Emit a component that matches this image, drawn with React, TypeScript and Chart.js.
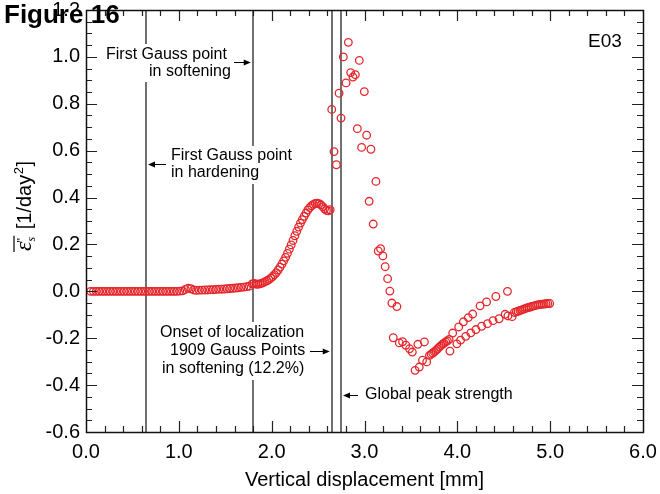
import React, { useEffect, useRef } from "react";
import { Chart, registerables } from "chart.js";

Chart.register(...registerables);

// ---- data ----
const hardeningDisp = [
  0.05, 0.08, 0.11, 0.14, 0.17, 0.2, 0.23, 0.26, 0.29, 0.32, 0.35, 0.38, 0.41, 0.44, 0.47, 0.5,
  0.53, 0.56, 0.59, 0.62, 0.65, 0.68, 0.71, 0.74, 0.77, 0.8, 0.83, 0.86, 0.89, 0.92, 0.95, 0.98,
  1.01, 1.04, 1.07, 1.1, 1.13, 1.16, 1.19, 1.22, 1.25, 1.28, 1.31, 1.34, 1.37, 1.4, 1.43, 1.46,
  1.49, 1.52, 1.55, 1.58, 1.61, 1.64, 1.67, 1.7, 1.73, 1.76,
  1.79, 1.81, 1.83, 1.85, 1.87, 1.89, 1.91, 1.93, 1.95, 1.97, 1.99, 2.01, 2.03, 2.05, 2.07, 2.09,
  2.11, 2.13, 2.15, 2.17, 2.19, 2.21, 2.23, 2.25, 2.27, 2.29, 2.31, 2.33, 2.35, 2.37, 2.39, 2.41,
  2.43, 2.45, 2.47, 2.49, 2.51, 2.53, 2.55, 2.57, 2.59, 2.61, 2.63,
];
const hardeningRate = [
  0, 0, 0, 0, 0, 0, 0, 0, 0, 0, 0, 0, 0, 0, 0, 0,
  0, 0, 0, 0, 0, 0, 0, 0, 0, 0, 0, 0, 0, 0, 0, 0,
  0.001, 0.002, 0.008, 0.013, 0.011, 0.006, 0.004, 0.005, 0.005, 0.006, 0.006, 0.007, 0.007, 0.008, 0.009, 0.009,
  0.01, 0.011, 0.012, 0.013, 0.014, 0.015, 0.017, 0.018, 0.02, 0.022,
  0.032, 0.034, 0.031, 0.03, 0.032, 0.034, 0.037, 0.041, 0.045, 0.05, 0.056, 0.063, 0.071, 0.08, 0.091, 0.103,
  0.116, 0.13, 0.145, 0.162, 0.18, 0.198, 0.217, 0.237, 0.256, 0.274, 0.291, 0.306, 0.32, 0.334, 0.347, 0.357,
  0.365, 0.371, 0.375, 0.376, 0.374, 0.369, 0.361, 0.352, 0.345, 0.343, 0.348,
];
const softeningDisp = [
  2.647, 2.672, 2.697, 2.726, 2.747, 2.772, 2.801, 2.826, 2.851, 2.876, 2.901, 2.923, 2.944, 2.969,
  2.998, 3.023, 3.05, 3.069, 3.094, 3.123, 3.148, 3.173, 3.198, 3.223, 3.249, 3.273, 3.295, 3.349,
  3.31, 3.375, 3.41, 3.445, 3.485, 3.515, 3.575, 3.645,
  3.545, 3.59, 3.625, 3.67, 3.7, 3.718, 3.735, 3.752, 3.77, 3.787, 3.805, 3.822, 3.84, 3.857, 3.875,
  3.893, 3.912, 3.95, 4.015, 4.065, 4.118, 4.165, 4.245, 4.315, 4.415, 4.54,
  3.92, 3.995, 4.035, 4.09, 4.145, 4.2, 4.262, 4.325, 4.385, 4.45, 4.515, 4.545, 4.59,
  4.615, 4.635, 4.655, 4.675, 4.695, 4.715, 4.735, 4.755, 4.775, 4.795, 4.815, 4.835, 4.855, 4.875,
  4.895, 4.915, 4.935, 4.955, 4.975, 4.995,
];
const softeningRate = [
  0.776, 0.596, 0.54, 0.845, 0.739, 1.0, 0.889, 1.062, 0.933, 0.914, 0.924, 0.694, 0.985, 0.614,
  0.852, 0.666, 0.384, 0.606, 0.287, 0.469, 0.172, 0.182, 0.151, 0.105, 0.054, 0.001, -0.05, -0.065,
  -0.198, -0.22, -0.215, -0.23, -0.245, -0.259, -0.226, -0.216,
  -0.337, -0.323, -0.294, -0.301, -0.273, -0.268, -0.263, -0.258, -0.252, -0.245, -0.238, -0.232, -0.226, -0.221, -0.216,
  -0.211, -0.205, -0.178, -0.152, -0.13, -0.112, -0.097, -0.062, -0.045, -0.022, 0.0,
  -0.255, -0.224, -0.208, -0.192, -0.177, -0.163, -0.149, -0.138, -0.125, -0.117, -0.098, -0.105, -0.108,
  -0.09, -0.088, -0.085, -0.082, -0.079, -0.076, -0.073, -0.07, -0.068, -0.066, -0.063, -0.061, -0.059, -0.057,
  -0.056, -0.055, -0.054, -0.053, -0.052, -0.052,
];
// vertical reference lines: first GP hardening, first GP softening, onset of localization, global peak
const markerLines = [0.646, 1.796, 2.647, 2.747];

const X_MIN = 0, X_MAX = 6, X_STEP = 1, X_MINOR = 0.2;
const Y_MIN = -0.6, Y_MAX = 1.2, Y_STEP = 0.2, Y_MINOR = 0.05;

const SANS = '"Liberation Sans", Arial, sans-serif';
const RED = "#e5262b";

function fmt(v: number) {
  const r = Math.round(v * 10) / 10;
  return (r === 0 ? 0 : r).toFixed(1);
}

function arrow(ctx: CanvasRenderingContext2D, x1: number, x2: number, y: number) {
  const dir = x2 > x1 ? 1 : -1;
  ctx.save();
  ctx.strokeStyle = "#000";
  ctx.fillStyle = "#000";
  ctx.lineWidth = 1;
  ctx.beginPath();
  ctx.moveTo(x1, y + 0.5);
  ctx.lineTo(x2 - dir * 6, y + 0.5);
  ctx.stroke();
  ctx.beginPath();
  ctx.moveTo(x2, y + 0.5);
  ctx.lineTo(x2 - dir * 7, y - 3 + 0.5);
  ctx.lineTo(x2 - dir * 7, y + 3 + 0.5);
  ctx.closePath();
  ctx.fill();
  ctx.restore();
}

function textLines(ctx: CanvasRenderingContext2D, lines: [string, number, number][]) {
  ctx.save();
  ctx.font = `16px ${SANS}`;
  ctx.fillStyle = "#000";
  ctx.textBaseline = "middle";
  ctx.textAlign = "left";
  for (const [t, x, y] of lines) ctx.fillText(t, x, y);
  ctx.restore();
}

const decorPlugin = {
  id: "decor",
  beforeDatasetsDraw(chart: any) {
    const ctx: CanvasRenderingContext2D = chart.ctx;
    const xs = chart.scales.x;
    const { top, bottom } = chart.chartArea;
    ctx.save();
    ctx.strokeStyle = "#707070";
    ctx.lineWidth = 2;
    for (const v of markerLines) {
      const px = Math.round(xs.getPixelForValue(v));
      ctx.beginPath();
      ctx.moveTo(px, top);
      ctx.lineTo(px, bottom);
      ctx.stroke();
    }
    // white label boxes
    ctx.fillStyle = "#fff";
    ctx.fillRect(102, 44, 130, 38);
    ctx.fillRect(166, 146, 128, 38);
    ctx.fillRect(156, 322, 152, 58);
    ctx.restore();

    const l0 = xs.getPixelForValue(markerLines[0]);
    const l1 = xs.getPixelForValue(markerLines[1]);
    const l2 = xs.getPixelForValue(markerLines[2]);
    const l3 = xs.getPixelForValue(markerLines[3]);

    textLines(ctx, [
      ["First Gauss point", 106, 55],
      ["in softening", 149, 72],
      ["First Gauss point", 171, 156],
      ["in hardening", 171, 173],
      ["Onset of localization", 160, 333],
      ["1909 Gauss Points", 170, 351],
      ["in softening (12.2%)", 162, 369],
      ["Global peak strength", 365, 395],
    ]);
    arrow(ctx, 234, l1 - 2, 62);
    arrow(ctx, 166, l0 + 2, 164);
    arrow(ctx, 310, l2 - 2, 351);
    arrow(ctx, 358, l3 + 2, 395);
  },
  afterDraw(chart: any) {
    const ctx: CanvasRenderingContext2D = chart.ctx;
    const xs = chart.scales.x;
    const ys = chart.scales.y;
    const { left, right, top, bottom } = chart.chartArea;
    ctx.save();
    // ticks (inward)
    ctx.strokeStyle = "#222";
    ctx.lineWidth = 1.2;
    ctx.beginPath();
    const nx = Math.round((X_MAX - X_MIN) / X_MINOR);
    for (let i = 1; i < nx; i++) {
      const v = X_MIN + i * X_MINOR;
      const major = Math.abs(v / X_STEP - Math.round(v / X_STEP)) < 1e-6;
      const len = major ? 11 : 6;
      const px = Math.round(xs.getPixelForValue(v)) + 0.5;
      ctx.moveTo(px, bottom);
      ctx.lineTo(px, bottom - len);
      ctx.moveTo(px, top);
      ctx.lineTo(px, top + len);
    }
    const ny = Math.round((Y_MAX - Y_MIN) / Y_MINOR);
    for (let i = 1; i < ny; i++) {
      const v = Y_MIN + i * Y_MINOR;
      const major = Math.abs(v / Y_STEP - Math.round(v / Y_STEP)) < 1e-6;
      const len = major ? 11 : 6;
      const py = Math.round(ys.getPixelForValue(v)) + 0.5;
      ctx.moveTo(left, py);
      ctx.lineTo(left + len, py);
      ctx.moveTo(right, py);
      ctx.lineTo(right - len, py);
    }
    ctx.stroke();
    // frame
    ctx.strokeStyle = "#111";
    ctx.lineWidth = 1.5;
    ctx.strokeRect(Math.round(left) + 0.5, Math.round(top) + 0.5, Math.round(right - left), Math.round(bottom - top));

    // x title
    ctx.fillStyle = "#000";
    ctx.font = `20px ${SANS}`;
    ctx.textAlign = "center";
    ctx.textBaseline = "middle";
    ctx.fillText("Vertical displacement [mm]", (left + right) / 2, 480);

    // y title (rotated)
    ctx.save();
    ctx.translate(31, 206);
    ctx.rotate(-Math.PI / 2);
    ctx.textAlign = "left";
    ctx.textBaseline = "alphabetic";
    const epsFont = `italic 24px "Liberation Serif", serif`;
    const subFont = `italic 12px "Liberation Serif", serif`;
    const primeFont = `12px ${SANS}`;
    const mainFont = `20px ${SANS}`;
    const supFont = `13px ${SANS}`;
    ctx.font = epsFont;
    const wEps = ctx.measureText("\u03b5").width;
    ctx.font = subFont;
    const wSub = ctx.measureText("s").width;
    ctx.font = mainFont;
    const wA = ctx.measureText(" [1/day").width;
    const wB = ctx.measureText("]").width;
    ctx.font = supFont;
    const wSup = ctx.measureText("2").width;
    const total = wEps + wSub + 2 + wA + wSup + 1 + wB;
    let x = -total / 2;
    ctx.font = epsFont;
    ctx.fillText("\u03b5", x, 0);
    ctx.lineWidth = 1.2;
    ctx.strokeStyle = "#000";
    ctx.beginPath();
    ctx.moveTo(x - 1, -17);
    ctx.lineTo(x + wEps + wSub + 1, -17);
    ctx.stroke();
    ctx.font = primeFont;
    ctx.fillText("''", x + wEps - 1, -5);
    ctx.font = subFont;
    ctx.fillText("s", x + wEps, 4);
    x += wEps + wSub + 2;
    ctx.font = mainFont;
    ctx.fillText(" [1/day", x, 0);
    x += wA;
    ctx.font = supFont;
    ctx.fillText("2", x + 0.5, -8);
    x += wSup + 1;
    ctx.font = mainFont;
    ctx.fillText("]", x, 0);
    ctx.restore();

    // panel tag
    ctx.font = `19px ${SANS}`;
    ctx.textAlign = "left";
    ctx.textBaseline = "alphabetic";
    ctx.fillText("E03", 588, 47);

    // figure label
    ctx.font = `bold 26px ${SANS}`;
    ctx.fillText("Figure 16", 4, 23);
    ctx.restore();
  },
};

export default function App() {
  const ref = useRef<HTMLCanvasElement | null>(null);
  useEffect(() => {
    if (!ref.current) return;
    const pts = [
      ...hardeningDisp.map((x, i) => ({ x, y: hardeningRate[i] })),
      ...softeningDisp.map((x, i) => ({ x, y: softeningRate[i] })),
    ];
    const chart = new Chart(ref.current, {
      type: "scatter",
      data: {
        datasets: [
          {
            data: pts,
            pointStyle: "circle",
            pointRadius: 3.8,
            pointBorderWidth: 1.3,
            borderColor: RED,
            backgroundColor: "rgba(0,0,0,0)",
            pointBackgroundColor: "rgba(0,0,0,0)",
            pointBorderColor: RED,
            showLine: false,
          } as any,
        ],
      },
      options: {
        responsive: false,
        animation: false,
        devicePixelRatio: 1,
        layout: { padding: { top: 10, right: 17, left: 0, bottom: 0 } },
        plugins: { legend: { display: false }, tooltip: { enabled: false } },
        scales: {
          x: {
            type: "linear",
            min: X_MIN,
            max: X_MAX,
            grid: { display: false, drawTicks: false },
            border: { display: false },
            ticks: {
              stepSize: X_STEP,
              autoSkip: false,
              maxRotation: 0,
              padding: 8,
              color: "#000",
              font: { family: SANS, size: 20 },
              callback: (v: any) => fmt(Number(v)),
            },
            afterFit: (s: any) => {
              s.height = 62;
              s.paddingLeft = 0;
              s.paddingRight = 0;
            },
          },
          y: {
            type: "linear",
            min: Y_MIN,
            max: Y_MAX,
            grid: { display: false, drawTicks: false },
            border: { display: false },
            ticks: {
              stepSize: Y_STEP,
              autoSkip: false,
              padding: 6,
              color: "#000",
              font: { family: SANS, size: 20 },
              callback: (v: any) => fmt(Number(v)),
            },
            afterFit: (s: any) => {
              s.width = 86;
              s.paddingTop = 0;
              s.paddingBottom = 0;
            },
          },
        },
      },
      plugins: [decorPlugin],
    });
    return () => chart.destroy();
  }, []);
  return (
    <div style={{ position: "absolute", left: 0, top: 0, width: 660, height: 494, background: "#fff" }}>
      <canvas ref={ref} width={660} height={494} style={{ width: 660, height: 494, display: "block" }} />
    </div>
  );
}
